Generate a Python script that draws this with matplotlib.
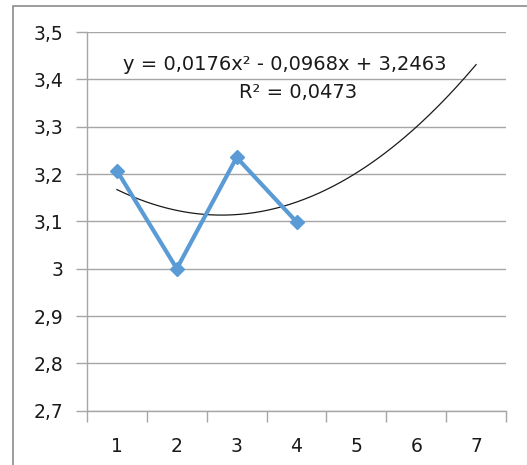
import numpy as np
import matplotlib
matplotlib.use("Agg")
import matplotlib.pyplot as plt
from matplotlib.patches import Rectangle

# data
categories = [1, 2, 3, 4, 5, 6, 7]
x_vals = [1, 2, 3, 4]
y_vals = [3.207, 3.0, 3.235, 3.099]
# polynomial trendline as printed on the chart
trend_coef = [0.0176, -0.0968, 3.2463]
eq_text = "y = 0,0176x² - 0,0968x + 3,2463"
r2_text = "R² = 0,0473"
y_ticks = [2.7, 2.8, 2.9, 3.0, 3.1, 3.2, 3.3, 3.4, 3.5]
y_ticklabels = ["2,7", "2,8", "2,9", "3", "3,1", "3,2", "3,3", "3,4", "3,5"]

W, H = 527, 465
fig = plt.figure(figsize=(W / 100, H / 100), dpi=100)
ax = fig.add_axes([87 / W, 1 - 410.7 / H, (506 - 87) / W, (410.7 - 32) / H])

grid_col = "#a6a6a6"
txt_col = "#1a1a1a"

# chart border (only left and top visible)
fig.add_artist(Rectangle((13 / W, -0.1), 1.2, 1 - 6 / H + 0.1, transform=fig.transFigure,
                         fill=False, edgecolor="#8c8c8c", linewidth=1.2))

# gridlines
for yt in y_ticks:
    ax.axhline(yt, color=grid_col, linewidth=1.0, zorder=0)

# trendline
xt = np.linspace(1, 7, 200)
ax.plot(xt, np.polyval(trend_coef, xt), color=txt_col, linewidth=0.9, zorder=2)

# series
ax.plot(x_vals, y_vals, color="#5b9bd5", linewidth=3.0, marker="D", markersize=7,
        markerfacecolor="#5b9bd5", markeredgecolor="#5b9bd5", zorder=3)

# trendline label, placed in pixels
fig.text(285 / W, 1 - 65 / H, eq_text, ha="center", va="center", fontsize=14, color=txt_col)
fig.text(298 / W, 1 - 93 / H, r2_text, ha="center", va="center", fontsize=14, color=txt_col)

ax.set_xlim(0.5, 7.5)
ax.set_ylim(2.7, 3.5)
ax.set_yticks(y_ticks)
ax.set_yticklabels(y_ticklabels)
ax.set_xticks(categories)
ax.set_xticklabels([str(c) for c in categories])
ax.set_xticks(np.arange(0.5, 8, 1), minor=True)

for s in ["top", "right"]:
    ax.spines[s].set_visible(False)
for s in ["left", "bottom"]:
    ax.spines[s].set_color(grid_col)
    ax.spines[s].set_linewidth(1.0)

ax.tick_params(axis="x", which="major", length=0, pad=19, labelsize=13.5, colors=txt_col)
ax.tick_params(axis="x", which="minor", length=8, color=grid_col, width=1.0)
ax.tick_params(axis="y", length=8, color=grid_col, width=1.0, pad=9, labelsize=13.5,
               labelcolor=txt_col)

fig.savefig("out.png", dpi=100)
